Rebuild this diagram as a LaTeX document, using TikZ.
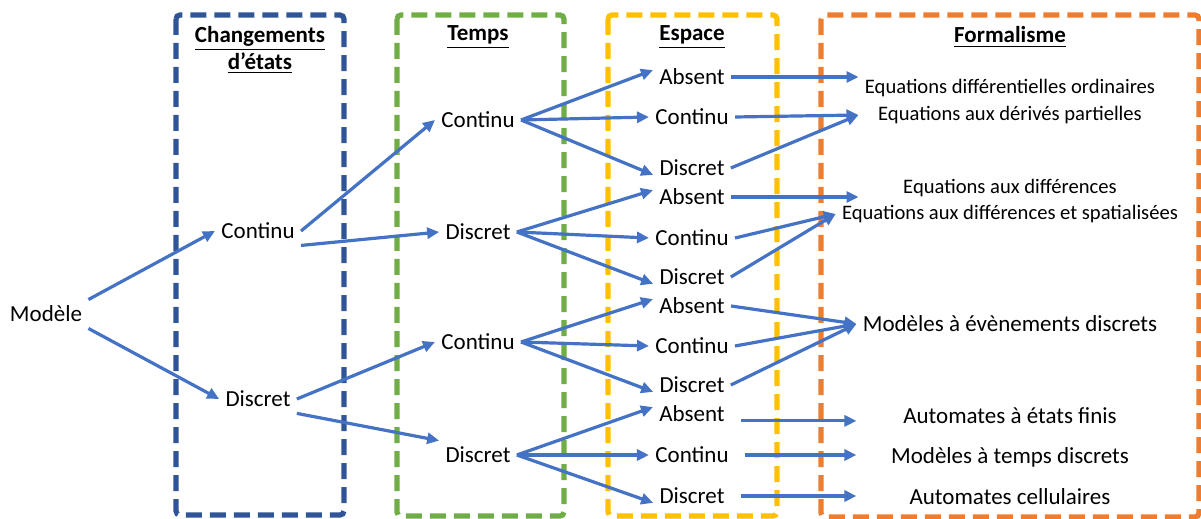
\documentclass[tikz,border=0pt]{standalone}
\usepackage{fontspec}
\setmainfont{Carlito}
\usetikzlibrary{arrows.meta}
\definecolor{fleche}{HTML}{4472C4}
\definecolor{bleuC}{HTML}{2F5597}
\definecolor{vertC}{HTML}{70AD47}
\definecolor{jauneC}{HTML}{FFC000}
\definecolor{orangeC}{HTML}{ED7D31}
\begin{document}
\begin{tikzpicture}[x=0.5pt,y=-0.5pt,
		cadre/.style={line width=2.6pt,dash pattern=on 8pt off 4pt,rounded corners=2pt},
		txt/.style={font=\fontsize{11.5}{13}\selectfont,inner sep=3pt},
		eq/.style={font=\fontsize{10.3}{12.4}\selectfont,inner sep=3pt},
		titre/.style={font=\fontsize{11.5}{13.5}\selectfont\bfseries,align=center},
		fl/.style={fleche,line width=1.6pt,-{Triangle[length=6pt,width=5.5pt]}}]
	\useasboundingbox (0,0) rectangle (1201,519);
	\draw[cadre,bleuC] (176,15) rectangle (344,515);
	\draw[cadre,vertC] (397,15) rectangle (564,516);
	\draw[cadre,jauneC] (608,15) rectangle (777,516);
	\draw[cadre,orangeC] (821,15) rectangle (1199,517);
	\node[titre] (tCE) at (260,50) {\underline{Changements}\\\underline{d’états}};
	\node[titre] (tT) at (478,37) {\underline{Temps}};
	\node[titre] (tE) at (692,37) {\underline{Espace}};
	\node[titre] (tF) at (1010,37) {\underline{Formalisme}};
	\node[txt] (M) at (46,314) {Modèle};
	\node[txt] (S1) at (258,231) {Continu};
	\node[txt] (S2) at (258,399) {Discret};
	\foreach \i/\y/\t in {1/120/Continu,2/232/Discret,3/342/Continu,4/455/Discret}
		\node[txt] (T\i) at (478,\y) {\t};
	\draw[fl] (M.north east) -- (S1.west);
	\draw[fl] (M.south east) -- (S2.west);
	\draw[fl] (S1.east) -- (T1.west);
	\draw[fl] (S1.south east) -- (T2.west);
	\draw[fl] (S2.east) -- (T3.west);
	\draw[fl] (S2.south east) -- (T4.north west);
	\foreach \i/\a/\b/\c in {1/77/117/168,2/197/238/277,3/306/346/385,4/414/455/496}{
		\node[txt] (A\i) at (692,\a) {Absent};
		\node[txt] (C\i) at (692,\b) {Continu};
		\node[txt] (D\i) at (692,\c) {Discret};
		\draw[fl] (T\i.east) -- (A\i.170);
		\draw[fl] (T\i.east) -- (C\i.west);
		\draw[fl] (T\i.east) -- (D\i.190);
	}
	\node[eq] (F1) at (1010,88) {Equations différentielles ordinaires};
	\node[eq] (F2) at (1010,115) {Equations aux dérivés partielles};
	\node[eq] (F3) at (1010,188) {Equations aux différences};
	\node[eq] (F4) at (1010,214) {Equations aux différences et spatialisées};
	\node[txt] (F5) at (1010,324) {Modèles à évènements discrets};
	\node[txt] (F6) at (1010,416) {Automates à états finis};
	\node[txt] (F7) at (1010,457) {Modèles à temps discrets};
	\node[txt] (F8) at (1010,497) {Automates cellulaires};
	\draw[fl] (A1.east) -- (A1.east -| F1.west);
	\draw[fl] (C1.east) -- (F1.west |- F2);
	\draw[fl] (D1.east) -- (F1.west |- F2);
	\draw[fl] (A2.east) -- (A2.east -| F1.west);
	\draw[fl] (C2.east) -- (F4.west);
	\draw[fl] (D2.east) -- (F4.west);
	\draw[fl] (A3.east) -- (F5.west);
	\draw[fl] (C3.east) -- (F5.west);
	\draw[fl] (D3.east) -- (F5.west);
	\begin{scope}[shorten <=5pt]
		\draw[fl] (A4.-10) -- (A4.-10 -| F5.west);
		\draw[fl] (C4.east) -- (C4.east -| F5.west);
		\draw[fl] (D4.east) -- (D4.east -| F5.west);
	\end{scope}
\end{tikzpicture}
\end{document}
